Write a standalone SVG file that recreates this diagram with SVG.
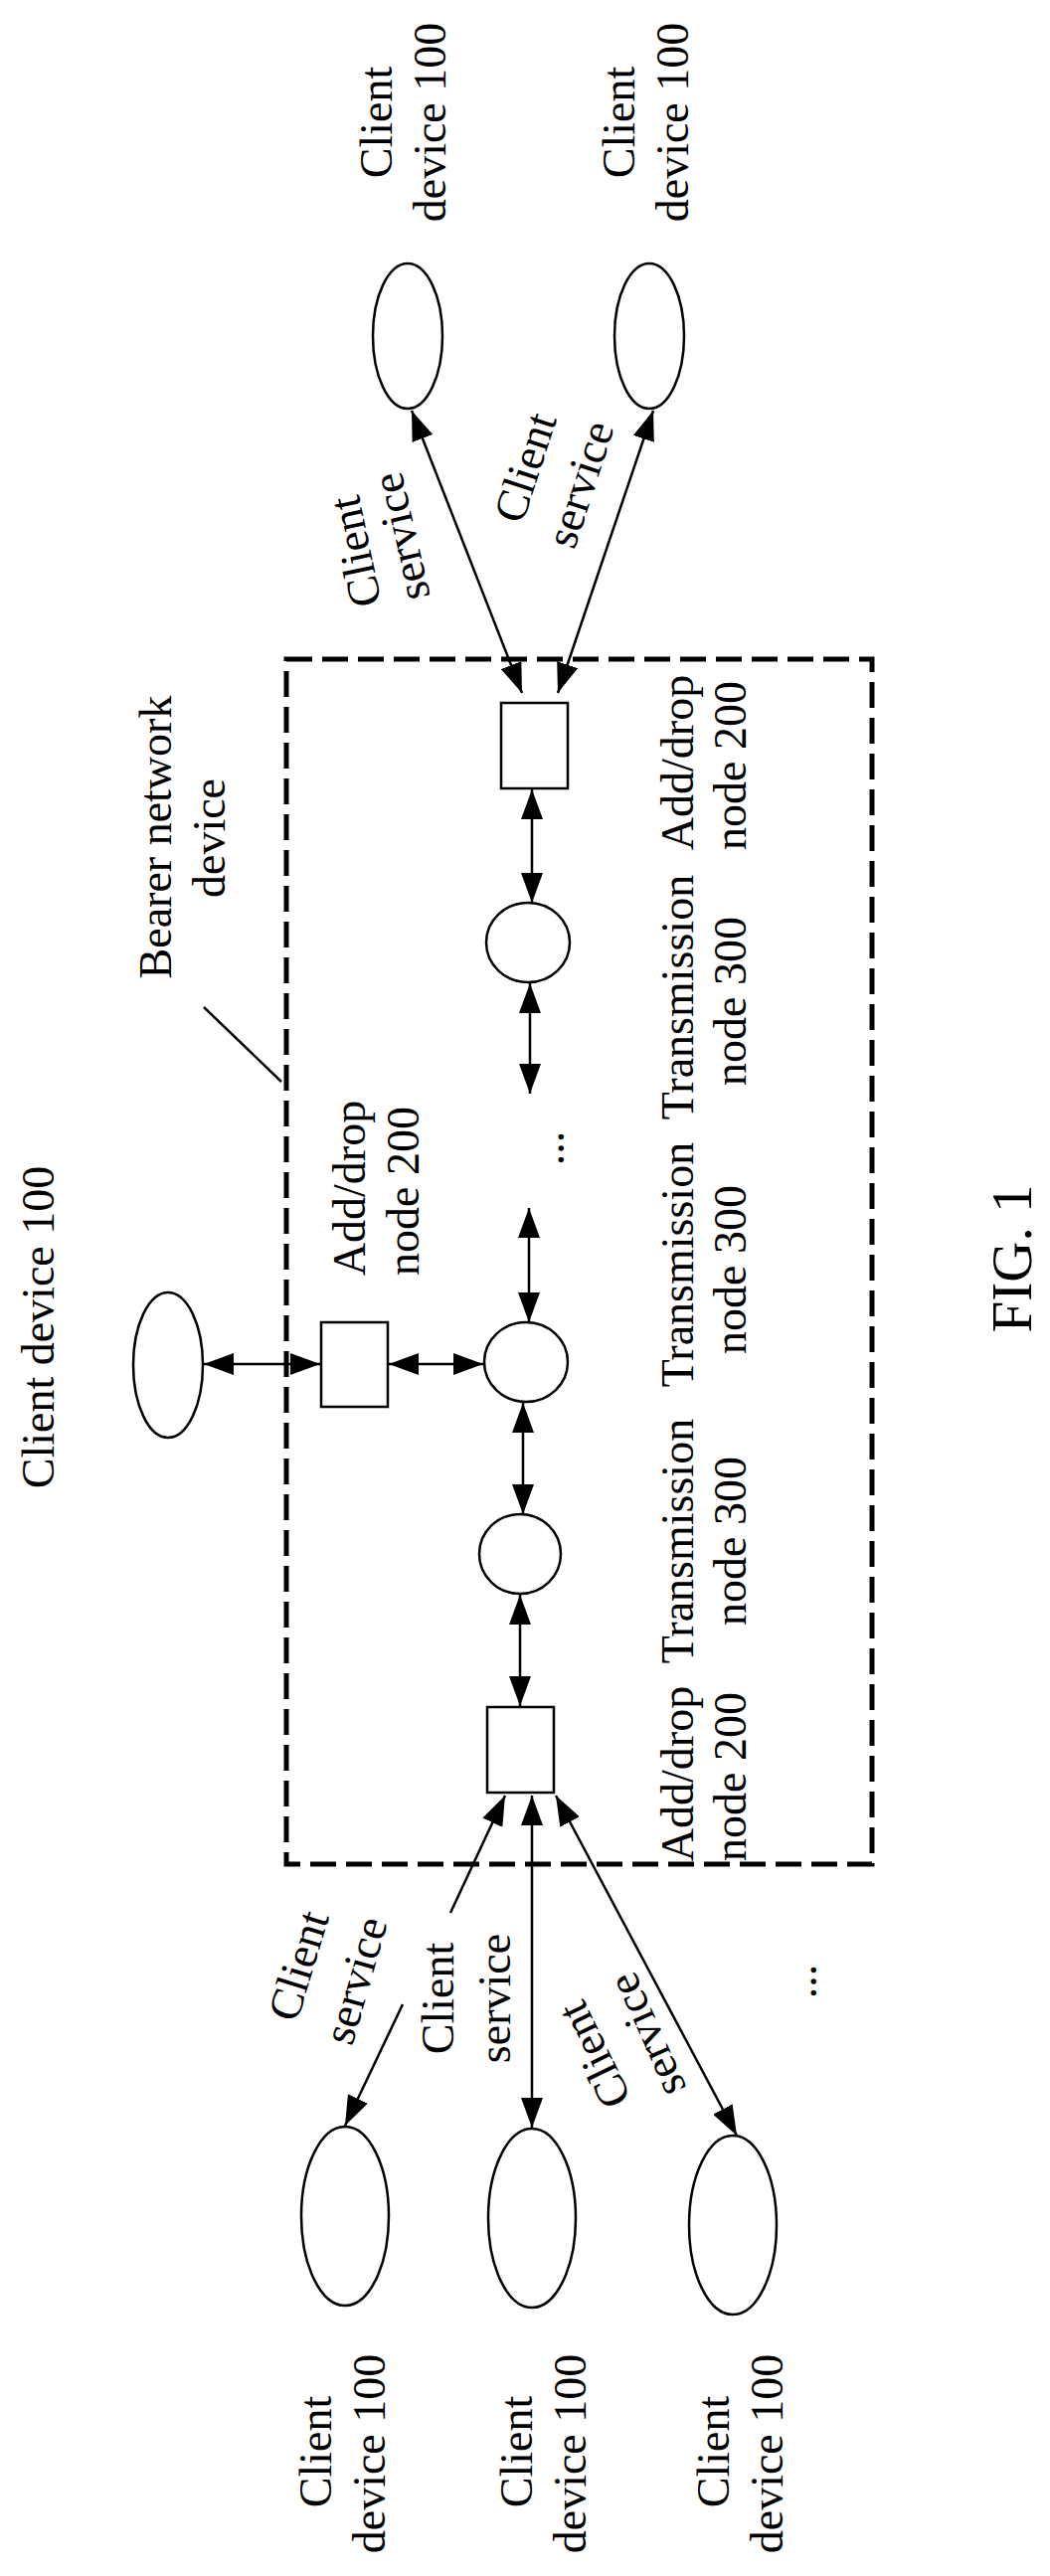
<svg xmlns="http://www.w3.org/2000/svg" width="1056" height="2591" viewBox="0 0 1056 2591">
<style>
text{font-family:"Liberation Serif","Times New Roman",serif;font-size:46px;fill:#000;text-anchor:middle}
.c{dominant-baseline:central}
.shape{fill:#fff;stroke:#000;stroke-width:2.5}
.ln{stroke:#000;stroke-width:2.5;fill:none}
.bi{marker-start:url(#ah);marker-end:url(#ah)}
</style>
<defs>
<marker id="ah" viewBox="0 0 30 22" refX="30" refY="11" markerWidth="30" markerHeight="22" markerUnits="userSpaceOnUse" orient="auto-start-reverse"><path d="M0,0 L30,11 L0,22 z" fill="#000"/></marker>
</defs>
<rect width="1056" height="2591" fill="#fff"/>
<g id="bearer-box">
<rect x="288" y="663" width="589" height="1212" fill="none" stroke="#000" stroke-width="5" stroke-dasharray="26 10"/>
<text transform="translate(172,842) rotate(-90)">Bearer network</text>
<text transform="translate(226,843) rotate(-90)">device</text>
</g>
<g id="connectors">
<line class="ln bi" x1="414" y1="413" x2="525" y2="697"/>
<line class="ln bi" x1="657" y1="413" x2="561" y2="697"/>
<line class="ln bi" x1="535" y1="794" x2="535" y2="908"/>
<line class="ln bi" x1="533" y1="989" x2="533" y2="1100"/>
<line class="ln bi" x1="532" y1="1215" x2="532" y2="1330"/>
<line class="ln bi" x1="526" y1="1411" x2="526" y2="1523"/>
<line class="ln bi" x1="523" y1="1604" x2="523" y2="1716"/>
<line class="ln bi" x1="205" y1="1372" x2="322" y2="1372"/>
<line class="ln bi" x1="391" y1="1372" x2="486" y2="1372"/>
<line class="ln" x1="453" y1="1924" x2="508" y2="1806" marker-end="url(#ah)"/>
<line class="ln" x1="405" y1="2016" x2="347" y2="2138" marker-end="url(#ah)"/>
<line class="ln bi" x1="535" y1="1806" x2="535" y2="2140"/>
<line class="ln bi" x1="559" y1="1806" x2="741" y2="2148"/>
<line class="ln" x1="205" y1="1013" x2="283" y2="1088"/>
</g>
<g id="client-top-1">
<ellipse class="shape" cx="410" cy="338" rx="35" ry="73"/>
<text transform="translate(394,123) rotate(-90)">Client</text>
<text transform="translate(448,123) rotate(-90)">device 100</text>
</g>
<g id="client-top-2">
<ellipse class="shape" cx="653" cy="338" rx="35" ry="73"/>
<text transform="translate(638,123) rotate(-90)">Client</text>
<text transform="translate(692,123) rotate(-90)">device 100</text>
</g>
<g id="client-left">
<ellipse class="shape" cx="169" cy="1373" rx="35" ry="73"/>
<text transform="translate(54,1335) rotate(-90)">Client device 100</text>
</g>
<g id="client-bottom-1">
<ellipse class="shape" cx="347" cy="2229" rx="44" ry="90"/>
<text transform="translate(333,2466) rotate(-90)">Client</text>
<text transform="translate(387,2468) rotate(-90)">device 100</text>
</g>
<g id="client-bottom-2">
<ellipse class="shape" cx="535" cy="2231" rx="44" ry="90"/>
<text transform="translate(535,2466) rotate(-90)">Client</text>
<text transform="translate(589,2468) rotate(-90)">device 100</text>
</g>
<g id="client-bottom-3">
<ellipse class="shape" cx="737" cy="2238" rx="44" ry="90"/>
<text transform="translate(733,2466) rotate(-90)">Client</text>
<text transform="translate(787,2468) rotate(-90)">device 100</text>
</g>
<g id="adddrop-top">
<rect class="shape" x="504" y="707" width="67" height="86"/>
</g>
<g id="trans-1"><ellipse class="shape" cx="531" cy="948" rx="42" ry="40"/></g>
<g id="adddrop-mid">
<rect class="shape" x="323" y="1330" width="67" height="85"/>
<text transform="translate(367,1195) rotate(-90)">Add/drop</text>
<text transform="translate(421,1198) rotate(-90)">node 200</text>
</g>
<g id="trans-2"><ellipse class="shape" cx="529" cy="1370" rx="42" ry="40"/></g>
<g id="trans-3"><ellipse class="shape" cx="523" cy="1563" rx="41" ry="40"/></g>
<g id="adddrop-bottom"><rect class="shape" x="490" y="1717" width="67" height="86"/></g>
<g id="labels">
<text transform="translate(697,767) rotate(-90)">Add/drop</text>
<text transform="translate(750,770) rotate(-90)">node 200</text>
<text transform="translate(697,1003) rotate(-90)">Transmission</text>
<text transform="translate(750,1007) rotate(-90)">node 300</text>
<text transform="translate(697,1272) rotate(-90)">Transmission</text>
<text transform="translate(750,1277) rotate(-90)">node 300</text>
<text transform="translate(697,1550) rotate(-90)">Transmission</text>
<text transform="translate(750,1550) rotate(-90)">node 300</text>
<text transform="translate(697,1784) rotate(-90)">Add/drop</text>
<text transform="translate(750,1787) rotate(-90)">node 200</text>
<text class="c" transform="translate(551,1155) rotate(-90)">...</text>
<text class="c" transform="translate(805,1993) rotate(-90)">...</text>
<text class="c" transform="translate(357,555) rotate(-102)">Client</text>
<text class="c" transform="translate(403,540) rotate(-103)">service</text>
<text class="c" transform="translate(528,470) rotate(-72)">Client</text>
<text class="c" transform="translate(583,487) rotate(-72)">service</text>
<text class="c" transform="translate(300,1977) rotate(-73)">Client</text>
<text class="c" transform="translate(357,1992) rotate(-74)">service</text>
<text class="c" transform="translate(440,2010) rotate(-90)">Client</text>
<text class="c" transform="translate(497,2010) rotate(-90)">service</text>
<text class="c" transform="translate(597,2067) rotate(-116)">Client</text>
<text class="c" transform="translate(650,2047) rotate(-114)">service</text>
<text transform="translate(1037,1266) rotate(-90)" style="font-size:57px">FIG. 1</text>
</g>
</svg>
